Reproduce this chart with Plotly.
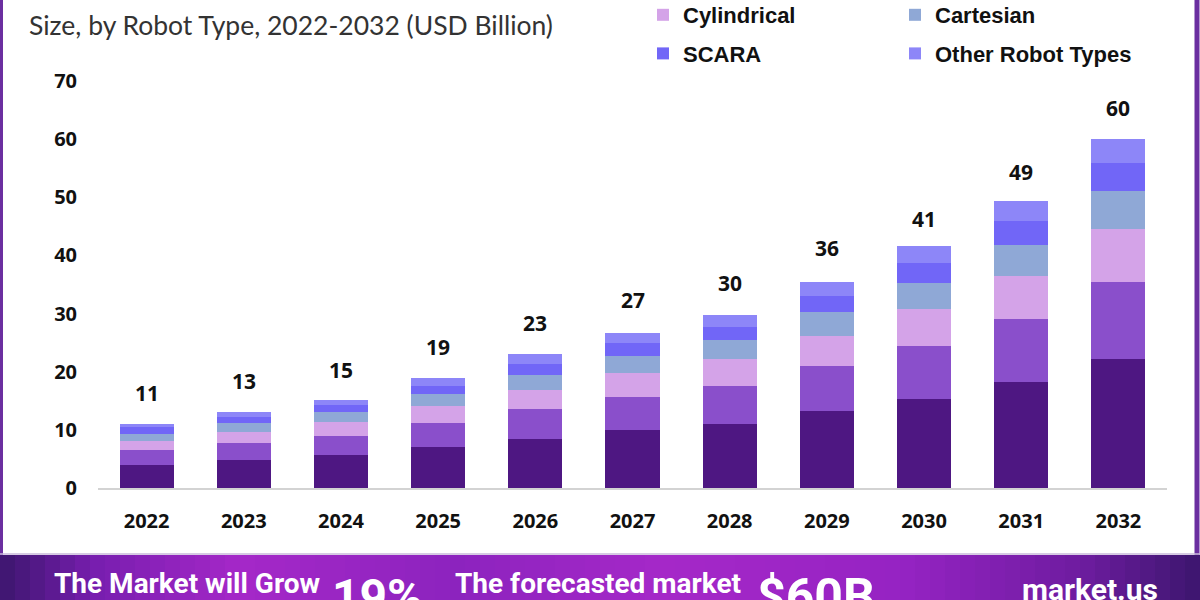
import plotly.graph_objects as go

# ---------------- data ----------------
years = ["2022", "2023", "2024", "2025", "2026", "2027", "2028", "2029", "2030", "2031", "2032"]
articulated = [3.96, 4.82, 5.68, 7.11, 8.43, 9.98, 11.02, 13.25, 15.37, 18.30, 22.25]
polar = [2.58, 2.98, 3.27, 4.03, 5.11, 5.73, 6.54, 7.75, 9.07, 10.84, 13.20]
cylindrical = [1.60, 1.79, 2.36, 2.98, 3.32, 4.13, 4.65, 5.22, 6.32, 7.35, 9.07]
cartesian = [1.15, 1.55, 1.72, 2.01, 2.63, 2.87, 3.27, 4.13, 4.58, 5.39, 6.60]
scara = [1.26, 1.14, 1.26, 1.48, 1.84, 2.19, 2.29, 2.70, 3.34, 4.08, 4.77]
other = [0.41, 0.76, 0.91, 1.38, 1.67, 1.77, 2.01, 2.46, 2.86, 3.39, 4.13]
totals = [11, 13, 15, 19, 23, 27, 30, 36, 41, 49, 60]
y_ticks = [0, 10, 20, 30, 40, 50, 60, 70]

# ---------------- style ----------------
W, H = 1200, 600
L, R, T, B = 98, 33, 81, 112
PW, PH = W - L - R, H - T - B


def px(x):
    return (x - L) / PW


def py(y):
    return (H - B - y) / PH


series = [
    ("Articulated", articulated, "#4E1782", None),
    ("Polar", polar, "#8A4FCB", None),
    ("Cylindrical", cylindrical, "#D4A3E8", "legend"),
    ("Cartesian", cartesian, "#8FA8D6", "legend2"),
    ("SCARA", scara, "#7166F7", "legend"),
    ("Other Robot Types", other, "#8D86F8", "legend2"),
]

fig = go.Figure()
for name, vals, color, leg in series:
    fig.add_trace(go.Bar(
        x=years, y=vals, name=name,
        marker=dict(color=color, line=dict(width=0)),
        showlegend=leg is not None,
        legend=leg if leg else "legend",
        legendgroup=name,
        hoverinfo="skip",
    ))

bold = dict(family="Open Sans", size=20, color="#111111", weight=700)

# total labels (x given as category index)
for i, tot in enumerate(totals):
    fig.add_annotation(x=i, y=tot, xref="x", yref="y", text=str(tot),
                       showarrow=False, yanchor="bottom", yshift=15,
                       font=dict(family="Open Sans", size=21, color="#111111", weight=700))

# title (second line visible)
fig.add_annotation(x=px(27), y=py(25), xref="paper", yref="paper",
                   text="Size, by Robot Type, 2022-2032 (USD Billion)",
                   showarrow=False, xanchor="left", yanchor="middle",
                   font=dict(family="Lato", size=26.5, color="#333333"))

# banner gradient
stops = [(0.0, (60, 22, 110)), (0.08, (120, 30, 175)), (0.2, (165, 40, 200)),
         (0.38, (140, 35, 190)), (0.55, (165, 40, 200)), (0.75, (150, 35, 195)),
         (0.9, (110, 28, 160)), (1.0, (60, 22, 110))]


def grad(t):
    for (a, ca), (b, cb) in zip(stops[:-1], stops[1:]):
        if a <= t <= b:
            f = (t - a) / (b - a)
            c = [round(ca[k] + (cb[k] - ca[k]) * f) for k in range(3)]
            return "rgb(%d,%d,%d)" % tuple(c)
    return "rgb(60,22,110)"


n = 80
for i in range(n):
    x0 = i * W / n
    x1 = (i + 1) * W / n + 1
    fig.add_shape(type="rect", xref="paper", yref="paper",
                  x0=px(x0), x1=px(x1), y0=py(555), y1=py(610),
                  fillcolor=grad((i + 0.5) / n), line=dict(width=0), layer="above")

# side borders & card bottom line
fig.add_shape(type="line", xref="paper", yref="paper", x0=px(1.5), x1=px(1.5),
              y0=py(0), y1=py(555), line=dict(color="#6B2FA0", width=3))
fig.add_shape(type="line", xref="paper", yref="paper", x0=px(1197), x1=px(1197),
              y0=py(0), y1=py(555), line=dict(color="#6B2FA0", width=5))
fig.add_shape(type="line", xref="paper", yref="paper", x0=px(0), x1=px(1200),
              y0=py(554), y1=py(554), line=dict(color="#C9B8DA", width=1.5))

# banner texts (cut by the bottom edge, as in the source)
banner = [
    ("The Market will Grow", 52, 565, 28),
    ("19%", 330, 566, 48),
    ("The forecasted market", 453, 565, 28),
    ("$60B", 755, 566, 50),
    ("market.us", 1020, 570, 30),
]
for txt, bx, by, fs in banner:
    fig.add_annotation(x=px(bx), y=py(by), xref="paper", yref="paper", text=txt,
                       showarrow=False, xanchor="left", yanchor="top",
                       font=dict(family="Roboto", size=fs, color="white", weight=700))

legend_common = dict(
    orientation="v", yanchor="top", xanchor="left", traceorder="grouped",
    tracegroupgap=7, bgcolor="rgba(0,0,0,0)",
    font=dict(family="Liberation Sans", size=22, color="#111111", weight=700),
)

fig.update_layout(
    width=W, height=H,
    margin=dict(l=L, r=R, t=T, b=B, autoexpand=False),
    paper_bgcolor="white", plot_bgcolor="white",
    barmode="stack", bargap=0.444,
    showlegend=True,
    legend=dict(x=px(643), y=py(-6), **legend_common),
    legend2=dict(x=px(895), y=py(-6), **legend_common),
    xaxis=dict(type="category", range=[-0.5, 10.5], showgrid=False, showline=True,
               linecolor="#D3D3D3", linewidth=1.5, ticks="", tickfont=bold,
               ticklabelstandoff=14),
    yaxis=dict(range=[0, 70], tickvals=y_ticks, showgrid=False, zeroline=False,
               showline=False, ticks="", tickfont=bold, ticklabelstandoff=20),
)

fig.write_html("out.html")
